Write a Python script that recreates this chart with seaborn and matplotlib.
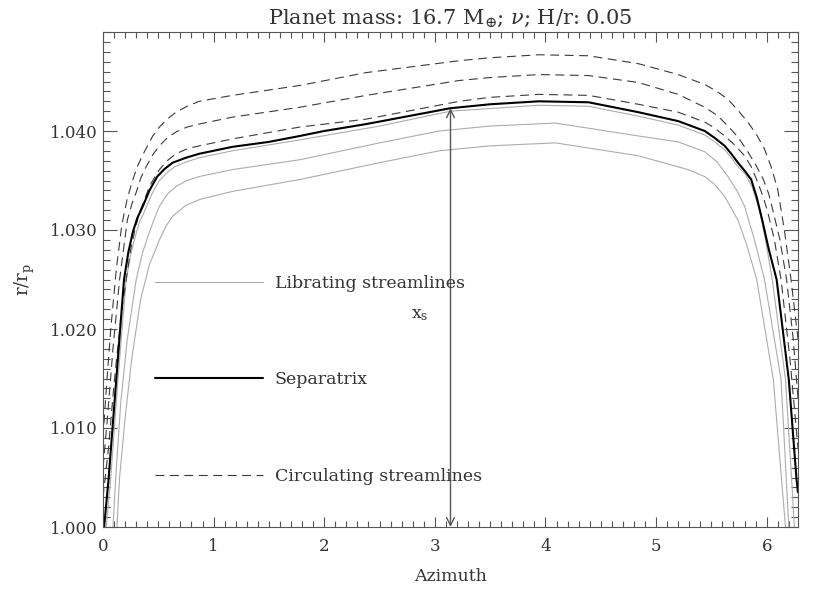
import numpy as np
import pandas as pd
import seaborn as sns
import matplotlib.pyplot as plt
from matplotlib.ticker import MultipleLocator, FormatStrFormatter

# librating streamlines (grey), separatrix (black), circulating streamlines (dashed)
lib1_az = [0.03, 0.07, 0.135, 0.21, 0.25, 0.29, 0.33, 0.38, 0.44, 0.51, 0.58, 0.65, 0.76, 0.87,
           1.17, 1.78, 2.5, 3.14, 3.94, 4.39, 4.84, 5.2, 5.44, 5.53, 5.62, 5.68, 5.74, 5.81, 5.87,
           5.93, 5.99, 6.05, 6.17, 6.23, 6.25]
lib1_r = [1.000, 1.005, 1.0149, 1.025, 1.0275, 1.0293, 1.0308, 1.032, 1.0336, 1.035, 1.0358,
          1.0364, 1.0369, 1.0373, 1.0380, 1.0391, 1.0405, 1.0420, 1.0426, 1.0425, 1.0415, 1.0406,
          1.0396, 1.0389, 1.0381, 1.0373, 1.0364, 1.0356, 1.0343, 1.0322, 1.029, 1.025, 1.0149,
          1.004, 1.000]

lib2_az = [0.09, 0.115, 0.16, 0.22, 0.30, 0.36, 0.42, 0.47, 0.51, 0.58, 0.66, 0.76, 0.87, 1.17,
           1.78, 2.5, 3.04, 3.5, 4.09, 4.84, 5.2, 5.44, 5.55, 5.65, 5.73, 5.8, 5.89, 5.98, 6.13,
           6.2]
lib2_r = [1.000, 1.005, 1.0125, 1.019, 1.025, 1.0278, 1.0298, 1.0313, 1.0324, 1.0336, 1.0344,
          1.035, 1.0354, 1.0361, 1.0371, 1.0388, 1.0400, 1.0405, 1.0408, 1.0395, 1.0389, 1.0379,
          1.0369, 1.0354, 1.034, 1.0324, 1.029, 1.025, 1.0149, 1.000]

lib3_az = [0.126, 0.15, 0.2, 0.26, 0.34, 0.42, 0.51, 0.57, 0.63, 0.75, 0.88, 1.17, 1.78, 2.5,
           3.04, 3.5, 4.09, 4.84, 5.29, 5.44, 5.53, 5.62, 5.74, 5.82, 5.91, 6.06, 6.17]
lib3_r = [1.000, 1.005, 1.011, 1.017, 1.023, 1.0265, 1.029, 1.0304, 1.0314, 1.0325, 1.0331,
          1.0339, 1.0351, 1.0368, 1.0380, 1.0385, 1.0388, 1.0375, 1.0361, 1.0354, 1.0346, 1.0334,
          1.031, 1.0285, 1.025, 1.0149, 1.000]

sep_az = [0.01, 0.05, 0.12, 0.19, 0.23, 0.27, 0.31, 0.36, 0.42, 0.49, 0.56, 0.63, 0.75, 0.87,
          1.17, 1.5, 1.78, 2.0, 2.38, 3.14, 3.5, 3.94, 4.39, 4.84, 5.2, 5.44, 5.53, 5.62, 5.68,
          5.74, 5.80, 5.86, 5.91, 5.96, 6.02, 6.09, 6.20, 6.27, 6.283]
sep_r = [1.000, 1.0048, 1.0149, 1.025, 1.0278, 1.0298, 1.0312, 1.0324, 1.0340, 1.0354, 1.0362,
         1.0368, 1.0373, 1.0377, 1.0384, 1.0389, 1.0395, 1.0400, 1.0407, 1.0423, 1.0427, 1.0430,
         1.0429, 1.0419, 1.0410, 1.0400, 1.0393, 1.0385, 1.0377, 1.0368, 1.0360, 1.0351, 1.0333,
         1.031, 1.028, 1.025, 1.0149, 1.0048, 1.0035]

circ1_az = [0.0, 0.05, 0.1, 0.17, 0.25, 0.29, 0.33, 0.38, 0.42, 0.47, 0.51, 0.58, 0.66, 0.76,
            0.87, 1.17, 1.78, 2.38, 3.22, 3.5, 3.94, 4.39, 4.84, 5.2, 5.44, 5.53, 5.62, 5.71, 5.8,
            5.86, 5.92, 5.97, 6.01, 6.07, 6.13, 6.21, 6.283]
circ1_r = [1.003, 1.008, 1.0145, 1.022, 1.028, 1.0301, 1.0318, 1.0332, 1.0344, 1.0354, 1.0361,
           1.037, 1.0377, 1.0382, 1.0385, 1.0392, 1.0404, 1.0412, 1.0430, 1.0434, 1.0437, 1.0436,
           1.0427, 1.0419, 1.0409, 1.0403, 1.0395, 1.0386, 1.0375, 1.0364, 1.0348, 1.0333, 1.0318,
           1.029, 1.025, 1.017, 1.008]

circ2_az = [0.0, 0.04, 0.09, 0.15, 0.22, 0.26, 0.30, 0.34, 0.39, 0.45, 0.51, 0.58, 0.66, 0.76,
            0.87, 1.17, 1.78, 2.38, 3.22, 3.5, 3.94, 4.39, 4.84, 5.2, 5.44, 5.55, 5.65, 5.74, 5.83,
            5.9, 5.97, 6.02, 6.06, 6.12, 6.18, 6.24, 6.283]
circ2_r = [1.006, 1.011, 1.018, 1.025, 1.031, 1.0326, 1.0338, 1.0352, 1.0364, 1.0376, 1.0385,
           1.0393, 1.0399, 1.0404, 1.0407, 1.0414, 1.0424, 1.0436, 1.0451, 1.0454, 1.0457, 1.0456,
           1.0449, 1.0437, 1.0424, 1.0416, 1.0405, 1.0394, 1.0379, 1.0366, 1.0351, 1.0336, 1.0318,
           1.029, 1.025, 1.019, 1.013]

circ3_az = [0.0, 0.03, 0.07, 0.12, 0.17, 0.22, 0.27, 0.31, 0.36, 0.45, 0.51, 0.58, 0.66, 0.76,
            0.87, 1.17, 1.78, 2.38, 3.22, 3.5, 3.94, 4.39, 4.84, 5.2, 5.44, 5.55, 5.65, 5.74, 5.83,
            5.91, 5.98, 6.04, 6.1, 6.16, 6.22, 6.283]
circ3_r = [1.009, 1.014, 1.020, 1.026, 1.0305, 1.0332, 1.0351, 1.0364, 1.0376, 1.0395, 1.0404,
           1.0412, 1.0419, 1.0425, 1.0430, 1.0436, 1.0446, 1.0459, 1.0471, 1.0474, 1.0477, 1.0476,
           1.0468, 1.0457, 1.0447, 1.0440, 1.0432, 1.0421, 1.0409, 1.0396, 1.0382, 1.0364, 1.0341,
           1.030, 1.025, 1.019]

legend_labels = ["Librating streamlines", "Separatrix", "Circulating streamlines"]
title = r"Planet mass: 16.7 M$_{\oplus}$; $\nu$; H/r: 0.05"

sns.set_style("ticks")
plt.rcParams["font.family"] = ["DejaVu Serif"]
plt.rcParams["mathtext.fontset"] = "dejavuserif"

fig = plt.figure(figsize=(8.3, 5.93), dpi=100)
ax = fig.add_axes([103 / 830, 1 - 527 / 593, 695 / 830, 495 / 593])

grey = "#acacac"
dash = (0, (8, 5))
for az, r in [(lib1_az, lib1_r), (lib2_az, lib2_r), (lib3_az, lib3_r)]:
    sns.lineplot(x=az, y=r, ax=ax, color=grey, lw=0.8, sort=False, estimator=None)
for az, r in [(circ1_az, circ1_r), (circ2_az, circ2_r), (circ3_az, circ3_r)]:
    sns.lineplot(x=az, y=r, ax=ax, color="#3a3a3a", lw=0.8, ls=dash, sort=False, estimator=None)
sns.lineplot(x=sep_az, y=sep_r, ax=ax, color="black", lw=1.5, sort=False, estimator=None)

lines = ax.get_lines()
handles = [lines[0], lines[-1], lines[3]]
ax.legend(handles, legend_labels, loc="center left", bbox_to_anchor=(0.075, 0.297),
          frameon=False, fontsize=12.5, handlelength=6.2, handletextpad=0.7,
          labelspacing=4.6, borderpad=0, borderaxespad=0, labelcolor="#333333")

# x_s: distance from corotation to the separatrix at azimuth pi
xs_top = np.interp(np.pi, sep_az, sep_r)
ax.annotate("", xy=(np.pi, xs_top), xytext=(np.pi, 1.0),
            arrowprops=dict(arrowstyle="<->", color="#555555", lw=1.0,
                            mutation_scale=14, shrinkA=0, shrinkB=0))
ax.text(2.86, 1.0215, r"x$_{\rm s}$", fontsize=12.5, ha="center", va="center", color="#333333")

ax.set_xlim(0, 2 * np.pi)
ax.set_ylim(1.0, 1.05)
ax.xaxis.set_major_locator(MultipleLocator(1))
ax.xaxis.set_minor_locator(MultipleLocator(0.1))
ax.yaxis.set_major_locator(MultipleLocator(0.01))
ax.yaxis.set_minor_locator(MultipleLocator(0.001))
ax.yaxis.set_major_formatter(FormatStrFormatter("%.3f"))
ax.set_yticks([1.0, 1.01, 1.02, 1.03, 1.04])

ax.tick_params(which="both", direction="in", top=True, right=True, color="#555555",
               width=0.8, labelsize=12, labelcolor="#333333")
ax.tick_params(axis="x", which="major", length=7.5, pad=8)
ax.tick_params(axis="x", which="minor", length=4)
ax.tick_params(axis="y", which="major", length=10, pad=4)
ax.tick_params(axis="y", which="minor", length=5)
for s in ax.spines.values():
    s.set_color("#555555")
    s.set_linewidth(0.8)

ax.set_xlabel("Azimuth", fontsize=12.5, color="#333333", labelpad=9)
ax.set_ylabel(r"r/r$_{\rm p}$", fontsize=13, color="#333333", labelpad=9)
ax.set_title(title, fontsize=15, color="#333333", pad=6)

fig.savefig("out.png", dpi=100)
